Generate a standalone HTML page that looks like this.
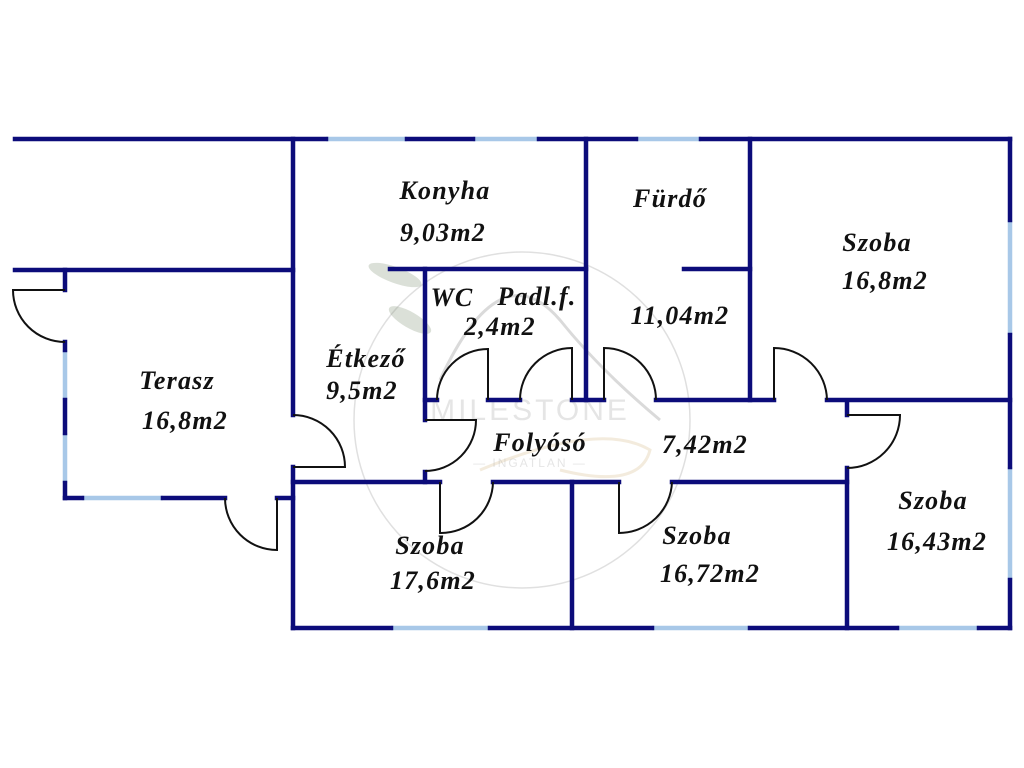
<!DOCTYPE html>
<html><head><meta charset="utf-8"><style>
html,body{margin:0;padding:0;background:#fff;}
svg{display:block}
text{font-family:"Liberation Serif",serif;font-weight:bold;font-style:italic;font-size:26px;letter-spacing:1.2px;fill:#111;}
</style></head><body>
<svg width="1024" height="768" viewBox="0 0 1024 768" xmlns="http://www.w3.org/2000/svg">
<g opacity="0.3" fill="none" stroke="#999" stroke-width="1.5">
<circle cx="522" cy="420" r="168"/>
<path d="M440 380 Q500 250 560 320 Q600 370 660 420" stroke="#888" stroke-width="3"/>
<path d="M480 470 Q600 420 650 450 Q640 490 560 470" stroke="#d8c090" stroke-width="3"/>
</g>
<g opacity="0.3">
<ellipse cx="395" cy="275" rx="28" ry="8" fill="#8a9a80" transform="rotate(20 395 275)"/>
<ellipse cx="410" cy="320" rx="24" ry="8" fill="#8a9a80" transform="rotate(30 410 320)"/>
<text x="530" y="420" text-anchor="middle" style="font-style:normal;font-weight:normal;font-family:'Liberation Sans',sans-serif;font-size:30px;fill:#aaa;letter-spacing:3px">MILESTONE</text>
<text x="530" y="467" text-anchor="middle" style="font-style:normal;font-weight:normal;font-family:'Liberation Sans',sans-serif;font-size:12px;fill:#aaa;letter-spacing:2px">— INGATLAN —</text>
</g>
<g stroke="#a8c8e8" stroke-width="4.5" fill="none">
<line x1="326" y1="139" x2="407" y2="139"/><line x1="473" y1="139" x2="539" y2="139"/><line x1="636" y1="139" x2="701" y2="139"/>
<line x1="1010" y1="220" x2="1010" y2="335"/><line x1="1010" y1="467" x2="1010" y2="580"/>
<line x1="391" y1="628" x2="490" y2="628"/><line x1="652" y1="628" x2="750" y2="628"/><line x1="897" y1="628" x2="979" y2="628"/>
<line x1="65" y1="350" x2="65" y2="400"/><line x1="65" y1="433" x2="65" y2="483"/>
<line x1="82" y1="498" x2="163" y2="498"/>
</g>
<g stroke="#0c0c7a" stroke-width="4.5" fill="none" stroke-linecap="square">
<line x1="15" y1="139" x2="326" y2="139"/><line x1="407" y1="139" x2="473" y2="139"/><line x1="539" y1="139" x2="636" y2="139"/><line x1="701" y1="139" x2="1010" y2="139"/>
<line x1="1010" y1="139" x2="1010" y2="220"/><line x1="1010" y1="335" x2="1010" y2="467"/><line x1="1010" y1="580" x2="1010" y2="628"/>
<line x1="293" y1="628" x2="391" y2="628"/><line x1="490" y1="628" x2="652" y2="628"/><line x1="750" y1="628" x2="897" y2="628"/><line x1="979" y1="628" x2="1010" y2="628"/>
<line x1="293" y1="139" x2="293" y2="415"/><line x1="293" y1="467" x2="293" y2="628"/>
<line x1="15" y1="270" x2="293" y2="270"/>
<line x1="65" y1="270" x2="65" y2="290"/><line x1="65" y1="342" x2="65" y2="350"/><line x1="65" y1="400" x2="65" y2="433"/><line x1="65" y1="483" x2="65" y2="498"/>
<line x1="65" y1="498" x2="82" y2="498"/><line x1="163" y1="498" x2="225" y2="498"/><line x1="277" y1="498" x2="293" y2="498"/>
<line x1="390" y1="269" x2="586" y2="269"/>
<line x1="425" y1="269" x2="425" y2="420"/><line x1="425" y1="472" x2="425" y2="482"/>
<line x1="425" y1="400" x2="437" y2="400"/><line x1="488" y1="400" x2="520" y2="400"/><line x1="572" y1="400" x2="604" y2="400"/><line x1="656" y1="400" x2="774" y2="400"/><line x1="827" y1="400" x2="1010" y2="400"/>
<line x1="586" y1="139" x2="586" y2="400"/><line x1="750" y1="139" x2="750" y2="400"/>
<line x1="684" y1="269" x2="750" y2="269"/>
<line x1="293" y1="482" x2="440" y2="482"/><line x1="493" y1="482" x2="619" y2="482"/><line x1="672" y1="482" x2="847" y2="482"/>
<line x1="572" y1="482" x2="572" y2="628"/>
<line x1="847" y1="402" x2="847" y2="415"/><line x1="847" y1="468" x2="847" y2="628"/>
</g>
<g stroke="#111" stroke-width="2" fill="none">
<path d="M293 415 A52 52 0 0 1 345 467 L293 467"/>
<path d="M65 290 L13 290 A52 52 0 0 0 65 342"/>
<path d="M225 498 A52 52 0 0 0 277 550 L277 498"/>
<path d="M437 400 A51 51 0 0 1 488 349 L488 400"/>
<path d="M520 400 A52 52 0 0 1 572 348 L572 400"/>
<path d="M604 400 L604 348 A52 52 0 0 1 656 400"/>
<path d="M774 400 L774 348 A53 53 0 0 1 827 400"/>
<path d="M425 420 L476 420 A51 51 0 0 1 425 471"/>
<path d="M440 482 L440 533 A52 52 0 0 0 493 482"/>
<path d="M619 482 L619 533 A53 53 0 0 0 672 482"/>
<path d="M847 415 L900 415 A53 53 0 0 1 847 468"/>
</g>
<g text-anchor="middle">
<text x="445" y="199">Konyha</text><text x="443" y="241">9,03m2</text>
<text x="670" y="207">Fürdő</text>
<text x="877" y="251">Szoba</text><text x="885" y="289">16,8m2</text>
<text x="452" y="306">WC</text><text x="537" y="305">Padl.f.</text><text x="500" y="335">2,4m2</text>
<text x="680" y="324">11,04m2</text>
<text x="366" y="367">Étkező</text><text x="362" y="399">9,5m2</text>
<text x="177" y="389">Terasz</text><text x="185" y="429">16,8m2</text>
<text x="540" y="451">Folyósó</text><text x="705" y="453">7,42m2</text>
<text x="430" y="554">Szoba</text><text x="433" y="589">17,6m2</text>
<text x="697" y="544">Szoba</text><text x="710" y="582">16,72m2</text>
<text x="933" y="509">Szoba</text><text x="937" y="550">16,43m2</text>
</g>
</svg>
</body></html>
